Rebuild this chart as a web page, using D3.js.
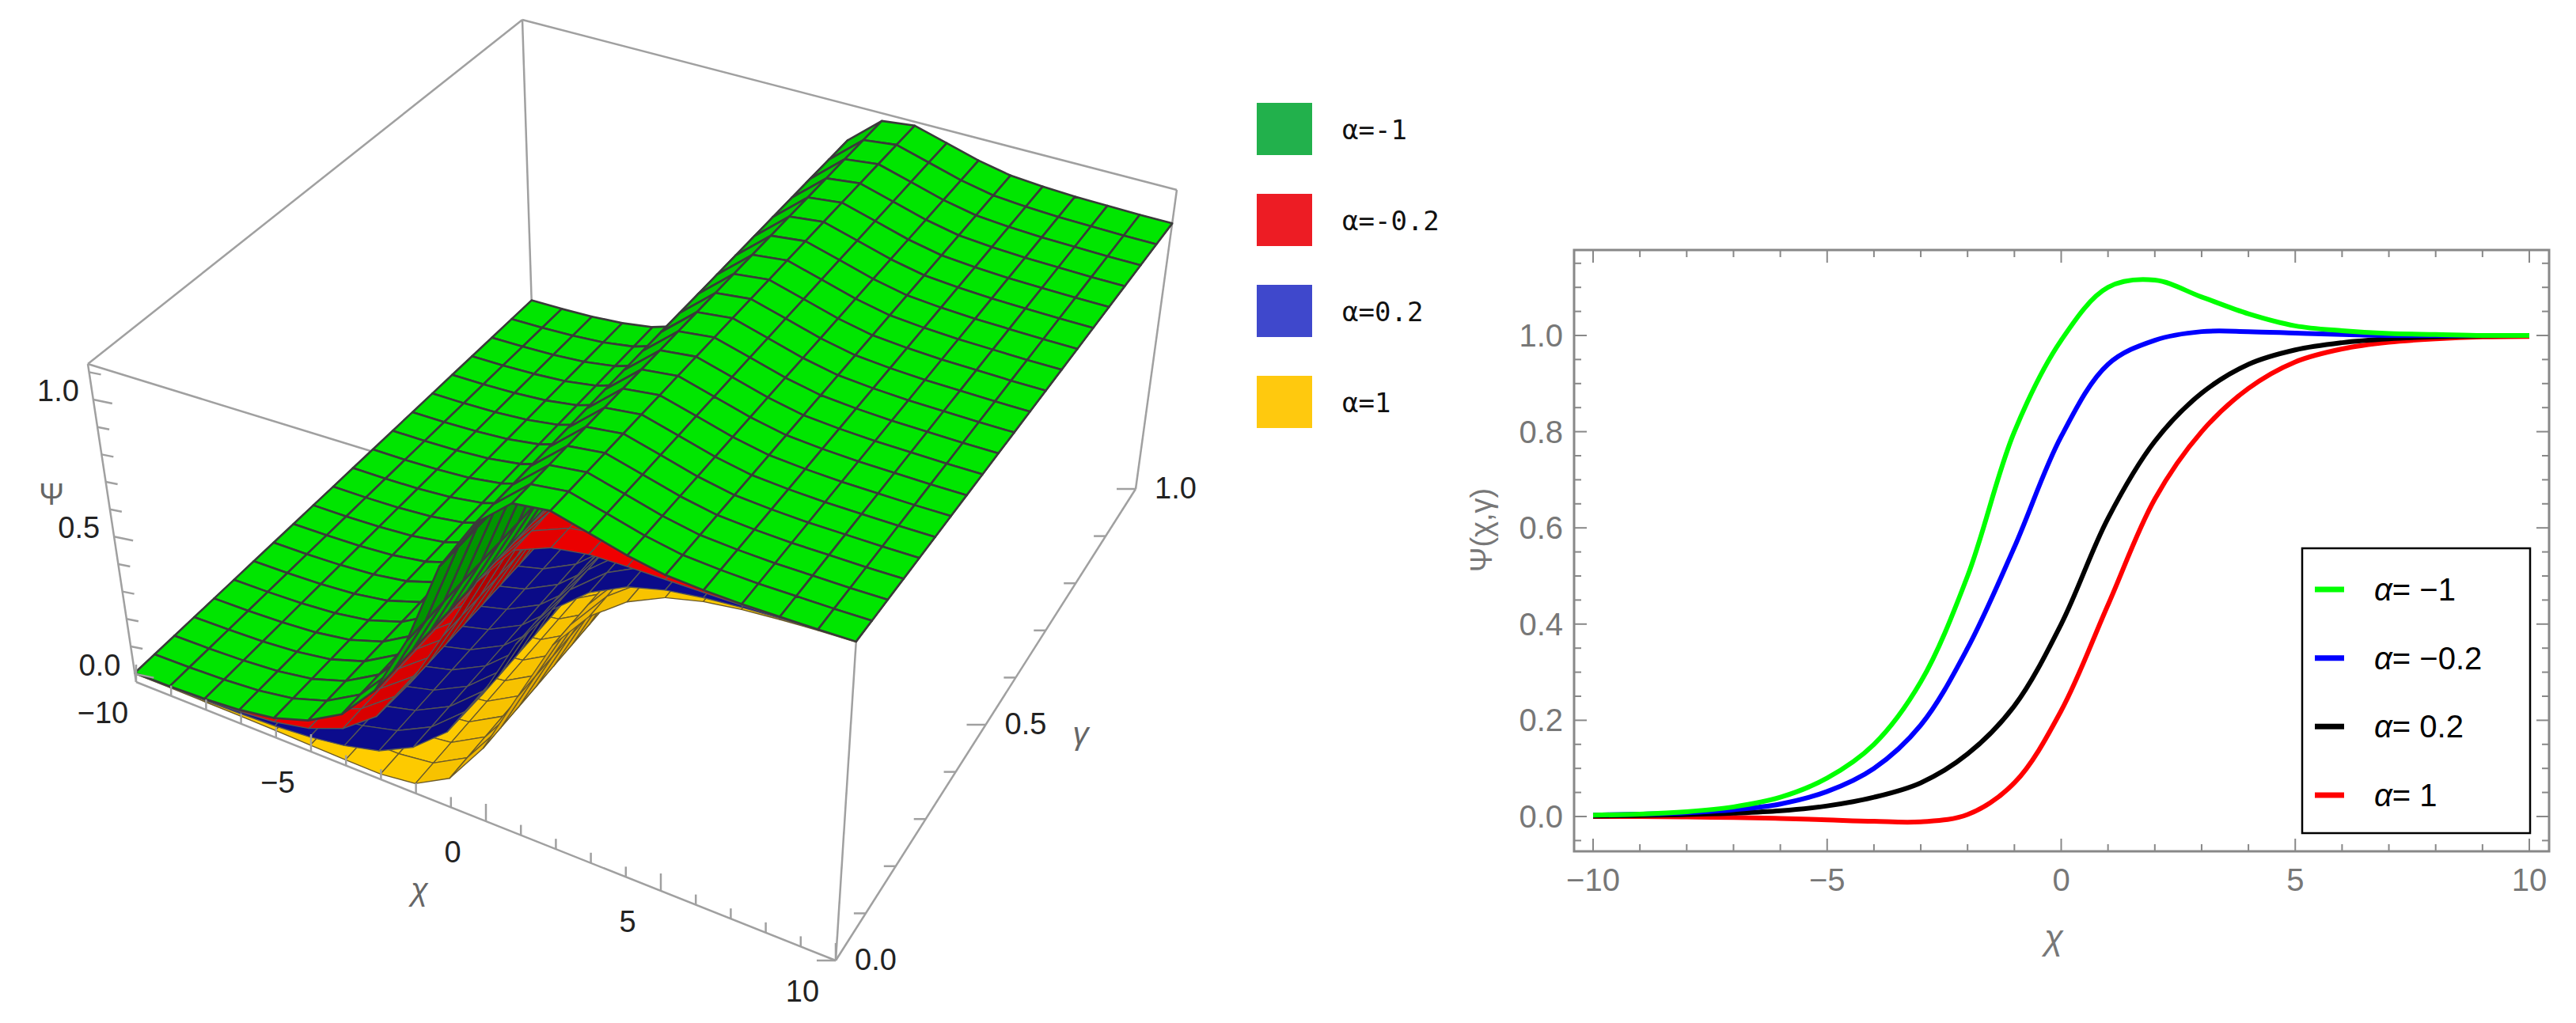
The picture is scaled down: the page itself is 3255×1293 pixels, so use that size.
<!DOCTYPE html>
<html>
<head>
<meta charset="utf-8">
<script src="https://cdn.jsdelivr.net/npm/d3@7"></script>
<style>
body { margin: 0; background: #fff; }
</style>
</head>
<body>
<svg id="chart" width="3255" height="1293"></svg>
<script>
// values, chi = -10 .. 10
var chiVals = [-10,-9,-8,-7,-6,-5,-4,-3,-2,-1,0,1,2,3,4,5,6,7,8,9,10];
var gammaVals = [0,0.05,0.1,0.15,0.2,0.25,0.3,0.35,0.4,0.45,0.5,0.55,0.6,0.65,0.7,0.75,0.8,0.85,0.9,0.95,1];
var psiAlphaM1  = [0.003,0.005,0.01,0.02,0.04,0.08,0.15,0.28,0.5,0.8,0.99,1.1,1.115,1.08,1.045,1.02,1.01,1.004,1.002,1.0,1.0];
var psiAlphaM02 = [0.003,0.005,0.008,0.014,0.026,0.052,0.1,0.19,0.35,0.56,0.79,0.94,0.99,1.008,1.008,1.005,1.002,1.0,1.0,1.0,1.0];
var psiAlphaP02 = [0.001,0.002,0.004,0.007,0.012,0.022,0.04,0.07,0.13,0.23,0.4,0.62,0.78,0.88,0.94,0.97,0.985,0.993,0.997,0.999,1.0];
var psiAlphaP1  = [0,0,-0.001,-0.002,-0.004,-0.007,-0.01,-0.011,0.004,0.07,0.22,0.44,0.66,0.8,0.89,0.945,0.972,0.986,0.993,0.997,0.998];
var xTicks = [-10,-5,0,5,10];
var yTicks = [0,0.2,0.4,0.6,0.8,1.0];
var yTickLabels = ["0.0","0.2","0.4","0.6","0.8","1.0"];
var chiTicks3d = [-10,-5,0,5,10];
var gammaTicks3d = [0,0.5,1];
var gammaTickLabels = ["0.0","0.5","1.0"];
var psiTicks3d = [0,0.5,1];
var psiTickLabels3d = ["0.0","0.5","1.0"];

var legend3d = [
    {label: "α=-1", color: "#22b14c"},
    {label: "α=-0.2", color: "#ed1c24"},
    {label: "α=0.2", color: "#3f48cc"},
    {label: "α=1", color: "#ffc90e"}
];
// 3d surfaces, drawn bottom to top
var surfaces = [
    {vals: psiAlphaP1, color: "#ffcc00", dark: "#b36b00", mesh: "#6b5a2a"},
    {vals: psiAlphaP02, color: "#0c0c90", dark: "#000030", mesh: "#555"},
    {vals: psiAlphaM02, color: "#f00000", dark: "#500000", mesh: "#555"},
    {vals: psiAlphaM1, color: "#00e600", dark: "#004000", mesh: "#3a3a3a"}
];
var curves2d = [
    {vals: psiAlphaM1, color: "#00ff00", label: "−1"},
    {vals: psiAlphaM02, color: "#0000ff", label: "−0.2"},
    {vals: psiAlphaP02, color: "#000000", label: "0.2"},
    {vals: psiAlphaP1, color: "#ff0000", label: "1"}
];

var svg = d3.select("#chart");

/* ---------- left panel: 3d surface ---------- */
// screen corners of the plot box (bottom face / top face)
var corner = {
    P: [172,862], Q: [1056,1214], R: [1435,618], S: [672,390],
    Pt: [111,460], Qt: [1085,760], Rt: [1487,240], St: [660,25]
};
var zMin = -0.03, zMax = 1.13;
var uScale = d3.scaleLinear().domain([-10,10]).range([0,1]);
var wScale = d3.scaleLinear().domain([zMin,zMax]).range([0,1]);

function bilerp(a,b,c,d,u,v){
    // a=(0,0) b=(1,0) c=(1,1) d=(0,1)
    var x = (1-u)*(1-v)*a[0] + u*(1-v)*b[0] + u*v*c[0] + (1-u)*v*d[0];
    var y = (1-u)*(1-v)*a[1] + u*(1-v)*b[1] + u*v*c[1] + (1-u)*v*d[1];
    return [x,y];
}
function proj(chi, g, z){
    var u = uScale(chi), w = wScale(z);
    var b = bilerp(corner.P,corner.Q,corner.R,corner.S,u,g);
    var t = bilerp(corner.Pt,corner.Qt,corner.Rt,corner.St,u,g);
    return [b[0] + w*(t[0]-b[0]), b[1] + w*(t[1]-b[1])];
}

var g3 = svg.append("g");
var boxColor = "#a0a0a0";
function edge(a,b){
    g3.append("line").attr("x1",a[0]).attr("y1",a[1]).attr("x2",b[0]).attr("y2",b[1])
        .attr("stroke",boxColor).attr("stroke-width",2.5);
}
// back edges first, the surfaces hide them
edge(corner.Pt, corner.St);
edge(corner.St, corner.Rt);
edge(corner.Rt, corner.R);
edge(corner.St, corner.S);
edge(corner.Pt, corner.Qt);
edge(corner.Q, corner.Qt);

// build all quads
var quads = [];
surfaces.forEach(function(s, si){
    for (var i = 0; i < chiVals.length-1; i++){
        for (var j = 0; j < gammaVals.length-1; j++){
            var c0 = chiVals[i], c1 = chiVals[i+1], g0 = gammaVals[j], g1 = gammaVals[j+1];
            var z0 = s.vals[i], z1 = s.vals[i+1];
            var pts = [proj(c0,g0,z0), proj(c1,g0,z1), proj(c1,g1,z1), proj(c0,g1,z0)];
            var mid = proj((c0+c1)/2,(g0+g1)/2,zMin);
            var slope = (z1 - z0);
            var k = Math.max(0, Math.min(0.75, slope*1.6));
            if (slope < 0) k = 0;
            quads.push({pts: pts, depth: mid[1] + si*0.01 + (z0+z1)*2, fill: d3.interpolateRgb(s.color, s.dark)(k), mesh: s.mesh, si: si});
        }
    }
});
quads.sort(function(a,b){ return a.depth - b.depth; });

g3.selectAll("path.quad")
    .data(quads)
    .join("path")
    .attr("class","quad")
    .attr("d", function(d){ return "M" + d.pts.map(function(p){return p.join(",");}).join("L") + "Z"; })
    .attr("fill", function(d){ return d.fill; })
    .attr("stroke", function(d){ return d.mesh; })
    .attr("stroke-width", function(d){ return d.si === 3 ? 2.6 : 1.4; })
    .attr("stroke-linejoin","round");

// front edges with axes
edge(corner.Pt, corner.P);
edge(corner.P, corner.Q);
edge(corner.Q, corner.R);

function tick(p, dx, dy){
    g3.append("line").attr("x1",p[0]).attr("y1",p[1]).attr("x2",p[0]+dx).attr("y2",p[1]+dy)
        .attr("stroke",boxColor).attr("stroke-width",2.5);
}
d3.range(-10,10.01,1).forEach(function(c){
    var major = chiTicks3d.indexOf(c) >= 0;
    tick(proj(c,0,zMin), major ? 0 : 0, major ? -22 : -13);
});
d3.range(0,1.001,0.1).forEach(function(g){
    var major = Math.abs(g*2 - Math.round(g*2)) < 1e-6;
    tick(proj(10,g,zMin), major ? -24 : -15, 0);
});
d3.range(0,1.13,0.1).forEach(function(z){
    var major = Math.abs(z*2 - Math.round(z*2)) < 1e-6;
    tick(proj(-10,0,z), major ? 24 : 15, major ? 5 : 3);
});

var lblFont = "'Liberation Sans', Arial, sans-serif";
chiTicks3d.forEach(function(c){
    var p = proj(c,0,zMin);
    g3.append("text").attr("x",p[0]-42).attr("y",p[1]+52)
        .attr("text-anchor","middle").attr("font-family",lblFont).attr("font-size",38)
        .attr("fill","#222").text(c < 0 ? "−" + (-c) : c);
});
gammaTicks3d.forEach(function(g,i){
    var p = proj(10,g,zMin);
    g3.append("text").attr("x",p[0]+24).attr("y",p[1]+12)
        .attr("text-anchor","start").attr("font-family",lblFont).attr("font-size",38)
        .attr("fill","#222").text(gammaTickLabels[i]);
});
psiTicks3d.forEach(function(z,i){
    var p = proj(-10,0,z);
    g3.append("text").attr("x",p[0]-18).attr("y",p[1]+2)
        .attr("text-anchor","end").attr("font-family",lblFont).attr("font-size",38)
        .attr("fill","#222").text(psiTickLabels3d[i]);
});
var chiLab = proj(0,0,zMin);
g3.append("text").attr("x",chiLab[0]-95).attr("y",chiLab[1]+100)
    .attr("font-family",lblFont).attr("font-size",40).attr("font-style","italic")
    .attr("fill","#666").text("χ");
var gamLab = proj(10,0.5,zMin);
g3.append("text").attr("x",gamLab[0]+110).attr("y",gamLab[1]+25)
    .attr("font-family",lblFont).attr("font-size",40).attr("font-style","italic")
    .attr("fill","#666").text("γ");
var psiLab = proj(-10,0,0.5);
g3.append("text").attr("x",psiLab[0]-95).attr("y",psiLab[1]-40)
    .attr("font-family",lblFont).attr("font-size",38)
    .attr("fill","#666").text("Ψ");

// legend of the 3d panel
var leg3 = svg.append("g").attr("transform","translate(1588,130)");
var legRow = d3.scaleBand().domain(legend3d.map(function(d){return d.label;})).range([0,460]);
leg3.selectAll("rect")
    .data(legend3d)
    .join("rect")
    .attr("x",0)
    .attr("y",function(d){ return legRow(d.label); })
    .attr("width",70).attr("height",66)
    .attr("fill",function(d){ return d.color; });
leg3.selectAll("text")
    .data(legend3d)
    .join("text")
    .attr("x",108)
    .attr("y",function(d){ return legRow(d.label) + 46; })
    .attr("font-family","'DejaVu Sans Mono', monospace")
    .attr("font-size",34)
    .attr("fill","#111")
    .text(function(d){ return d.label; });

/* ---------- right panel: 2d curves ---------- */
var frame = {left: 1989, right: 3221, top: 316, bottom: 1076};
var x = d3.scaleLinear().domain([-10,10]).range([2013,3196]);
var y = d3.scaleLinear().domain([0,1]).range([1032,424]);
var g2 = svg.append("g");
var axisGray = "#888";
var tickFont = "'Liberation Sans Narrow', 'Liberation Sans', sans-serif";

g2.append("rect")
    .attr("x",frame.left).attr("y",frame.top)
    .attr("width",frame.right-frame.left).attr("height",frame.bottom-frame.top)
    .attr("fill","none").attr("stroke",axisGray).attr("stroke-width",3);

// x ticks bottom / top
d3.range(-10,10.01,1).forEach(function(c){
    var major = xTicks.indexOf(c) >= 0;
    var len = major ? 16 : 9;
    g2.append("line").attr("x1",x(c)).attr("x2",x(c)).attr("y1",frame.bottom).attr("y2",frame.bottom-len)
        .attr("stroke",axisGray).attr("stroke-width",2);
    g2.append("line").attr("x1",x(c)).attr("x2",x(c)).attr("y1",frame.top).attr("y2",frame.top+len)
        .attr("stroke",axisGray).attr("stroke-width",2);
});
// y ticks left / right
d3.range(-0.05,1.16,0.05).forEach(function(v){
    var major = Math.abs(v*5 - Math.round(v*5)) < 1e-6;
    var len = major ? 16 : 9;
    g2.append("line").attr("x1",frame.left).attr("x2",frame.left+len).attr("y1",y(v)).attr("y2",y(v))
        .attr("stroke",axisGray).attr("stroke-width",2);
    g2.append("line").attr("x1",frame.right).attr("x2",frame.right-len).attr("y1",y(v)).attr("y2",y(v))
        .attr("stroke",axisGray).attr("stroke-width",2);
});
g2.selectAll("text.xt")
    .data(xTicks)
    .join("text")
    .attr("class","xt")
    .attr("x",function(d){ return x(d); })
    .attr("y",frame.bottom+50)
    .attr("text-anchor","middle")
    .attr("font-family",tickFont).attr("font-size",40).attr("fill","#777")
    .text(function(d){ return d < 0 ? "−" + (-d) : d; });
g2.selectAll("text.yt")
    .data(yTicks)
    .join("text")
    .attr("class","yt")
    .attr("x",frame.left-14)
    .attr("y",function(d){ return y(d) + 14; })
    .attr("text-anchor","end")
    .attr("font-family",tickFont).attr("font-size",40).attr("fill","#777")
    .text(function(d,i){ return yTickLabels[i]; });
g2.append("text").attr("x",(frame.left+frame.right)/2 - 10).attr("y",1200)
    .attr("text-anchor","middle").attr("font-family",tickFont).attr("font-size",44)
    .attr("font-style","italic").attr("fill","#777").text("χ");
g2.append("text")
    .attr("transform","translate(1885,670) rotate(-90)")
    .attr("text-anchor","middle").attr("font-family",tickFont).attr("font-size",38)
    .attr("fill","#777").text("Ψ(χ,γ)");

var line = d3.line()
    .x(function(d,i){ return x(chiVals[i]); })
    .y(function(d){ return y(d); })
    .curve(d3.curveCatmullRom.alpha(0.5));
g2.selectAll("path.curve")
    .data(curves2d.slice().reverse())
    .join("path")
    .attr("class","curve")
    .attr("d",function(d){ return line(d.vals); })
    .attr("fill","none")
    .attr("stroke",function(d){ return d.color; })
    .attr("stroke-width",6);

// legend box
var lg = g2.append("g");
lg.append("rect").attr("x",2909).attr("y",693).attr("width",288).attr("height",360)
    .attr("fill","#fff").attr("stroke","#000").attr("stroke-width",2.5);
var legY = d3.scalePoint().domain(curves2d.map(function(d){return d.label;})).range([745,1005]);
curves2d.forEach(function(d){
    lg.append("line").attr("x1",2925).attr("x2",2962).attr("y1",legY(d.label)).attr("y2",legY(d.label))
        .attr("stroke",d.color).attr("stroke-width",7);
    var t = lg.append("text").attr("x",3000).attr("y",legY(d.label)+14)
        .attr("font-family",tickFont).attr("font-size",40).attr("fill","#000");
    t.append("tspan").attr("font-style","italic").text("α");
    t.append("tspan").text("= " + d.label);
});
</script>
</body>
</html>
